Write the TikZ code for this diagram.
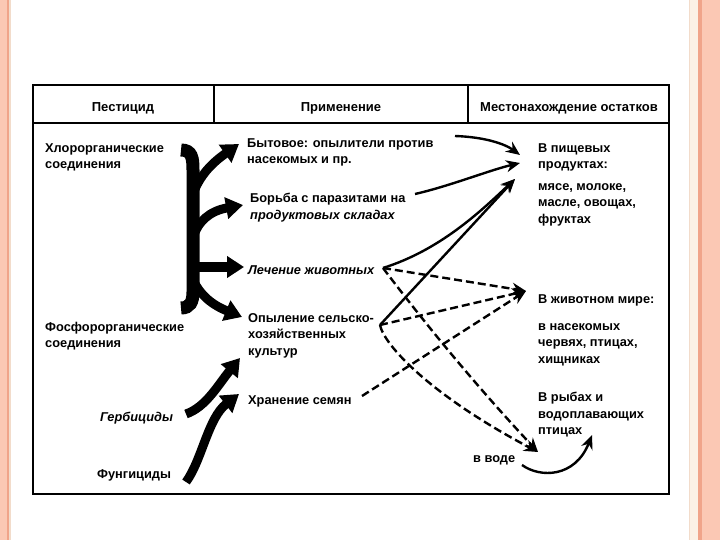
\documentclass[tikz,border=0pt]{standalone}
\usepackage{fontspec}
\setmainfont{Liberation Sans}
\usetikzlibrary{arrows.meta}
\definecolor{pinkfill}{HTML}{FBC8B4}
\definecolor{orangeline}{HTML}{F0A48A}
\definecolor{beigeline}{HTML}{F2DCCB}
\definecolor{creamline}{HTML}{FBF1E6}
\begin{document}
\begin{tikzpicture}[x=1bp,y=-1bp,
  txt/.style={anchor=west, inner sep=0pt, align=left, font=\bfseries\fontsize{12.8bp}{16.5bp}\selectfont},
  itxt/.style={txt, font=\bfseries\itshape\fontsize{12.8bp}{16.5bp}\selectfont},
  head/.style={anchor=center, inner sep=0pt, font=\bfseries\fontsize{13bp}{15bp}\selectfont},
  frame/.style={line width=2.3bp, black},
  thick arrow/.style={line width=9bp, line cap=butt, -{Triangle[length=17bp,width=21bp]}},
  thin arrow/.style={line width=2.4bp, -{Stealth[length=14bp,width=12bp]}},
  dash arrow/.style={thin arrow, dash pattern=on 8bp off 4bp}]
% page
\useasboundingbox (0,0) rectangle (720,540);
\fill[white] (0,0) rectangle (720,540);
\fill[pinkfill] (0,0) rectangle (7,540);
\fill[orangeline] (7,0) rectangle (8.5,540);
\fill[beigeline] (8.5,0) rectangle (10.5,540);
\fill[beigeline] (688.5,0) rectangle (690,540);
\fill[creamline] (690,0) rectangle (698,540);
\fill[orangeline] (698,0) rectangle (702,540);
\fill[pinkfill] (702,0) rectangle (720,540);
% table
\draw[frame] (33,85) rectangle (669,494);
\draw[frame] (33,123) -- (669,123);
\draw[frame] (214,85) -- (214,123);
\draw[frame] (468,85) -- (468,123);
\node[head] (h1) at (123,108) {Пестицид};
\node[head] (h2) at (341,108) {Применение};
\node[head] (h3) at (569,108) {Местонахождение остатков};
% left column
\node[txt, anchor=north west] (chl) at (45,143) {Хлорорганические\\соединения};
\node[txt, anchor=north west] (phos) at (45,322) {Фосфорорганические\\соединения};
\node[itxt] (herb) at (100,418) {Гербициды};
\node[txt] (fung) at (97,475) {Фунгициды};
% middle column
\node[txt, anchor=north west] (byt) at (247,138) {Бытовое: опылители против\\насекомых и пр.};
\node[txt, anchor=north west] (bor) at (250,193) {Борьба с паразитами на\\\itshape продуктовых складах};
\node[itxt] (lech) at (248,270) {Лечение животных};
\node[txt, anchor=north west] (opyl) at (248,313) {Опыление сельско-\\хозяйственных\\культур};
\node[txt] (hran) at (248,401) {Хранение семян};
% right column
\node[txt, anchor=north west] (pisch) at (538,143) {В пищевых\\продуктах:};
\node[txt, anchor=north west] (myaso) at (538,183) {мясе, молоке,\\масле, овощах,\\фруктах};
\node[txt] (zhiv) at (538,300) {В животном мире:};
\node[txt, anchor=north west] (nasek) at (538,323) {в насекомых\\червях, птицах,\\хищниках};
\node[txt, anchor=north west] (ryb) at (538,392) {В рыбах и\\водоплавающих\\птицах};
\node[txt] (voda) at (473,460) {в воде};
% coordinates
\coordinate (tTop) at (181,150);
\coordinate (tBot) at (181,308);
\coordinate (b1) at (239,144);
\coordinate (b2) at (243,205);
\coordinate (b3) at (244,267);
\coordinate (b4) at (242,317);
\coordinate (hS) at (186,414);
\coordinate (hE) at (240,358);
\coordinate (fS) at (186,482);
\coordinate (fE) at (239,394);
\coordinate (bytE) at (455,136);
\coordinate (borE) at (415,194);
\coordinate (lechE) at (383,268);
\coordinate (opylE) at (380,325);
\coordinate (hranE) at (362,396);
\coordinate (p1) at (520,155);
\coordinate (p2) at (520,163);
\coordinate (p3) at (515,179);
\coordinate (z1) at (526,291);
\coordinate (w1) at (538,452);
\coordinate (vodaE) at (522,465);
\coordinate (rybE) at (592,435);
% thick tree
\draw[line width=13bp] (tTop) .. controls (192,150) and (193,158) .. (193,170) -- (193,292) .. controls (193,302) and (190,308) .. (tBot);
\draw[thick arrow] (193,194) .. controls (200,175) and (212,163) .. (b1);
\draw[thick arrow] (193,238) .. controls (198,221) and (210,211) .. (b2);
\draw[thick arrow] (193,267) -- (b3);
\draw[thick arrow] (193,280) .. controls (202,298) and (215,306) .. (b4);
\draw[thick arrow] (hS) .. controls (206,407) and (218,385) .. (hE);
\draw[thick arrow] (fS) .. controls (202,460) and (208,418) .. (fE);
% thin connectors
\draw[thin arrow] (bytE) .. controls (485,137) and (505,144) .. (p1);
\draw[thin arrow] (borE) .. controls (450,186) and (490,170) .. (p2);
\draw[thin arrow] (lechE) .. controls (440,250) and (480,212) .. (p3);
\draw[thin arrow] (opylE) -- (p3);
\draw[dash arrow] (lechE) -- (z1);
\draw[dash arrow] (opylE) -- (z1);
\draw[dash arrow] (hranE) -- (z1);
\draw[dash arrow] (lechE) .. controls (430,330) and (480,390) .. (w1);
\draw[dash arrow] (opylE) .. controls (384,345) and (430,395) .. (w1);
\draw[thin arrow] (vodaE) .. controls (540,478) and (575,478) .. (rybE);
\end{tikzpicture}
\end{document}
